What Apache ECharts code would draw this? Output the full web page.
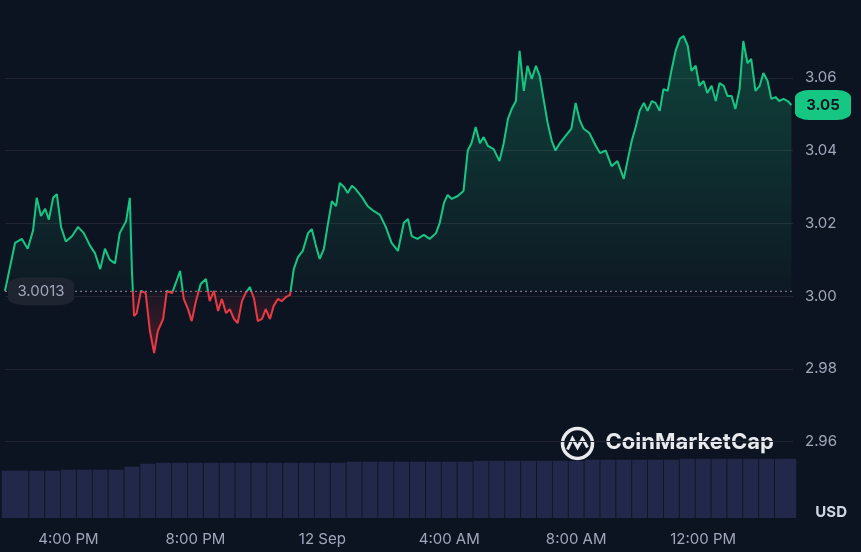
<!DOCTYPE html>
<html><head><meta charset="utf-8">
<script src="https://cdn.jsdelivr.net/npm/echarts@6/dist/echarts.min.js"></script>
<style>html,body{margin:0;background:#0d1421}#c{width:861px;height:552px}</style>
</head><body><div id="c"></div>
<script>
// minutes since 2:00 PM
const times=[0,19,32,43,53,60,68,76,83,91,98,106,115,127,138,149,161,170,180,189,198,208,217,229,236,240,244,249,257,266,274,282,289,299,306,316,323,331,338,346,353,361,370,380,387,395,403,410,418,425,433,440,448,455,463,471,478,486,493,501,508,516,523,531,539,546,554,563,573,580,588,595,603,610,618,626,633,641,648,656,663,675,686,697,709,720,731,743,754,762,769,780,792,803,815,822,830,837,845,856,867,875,882,890,898,905,913,924,935,943,951,958,966,973,981,988,996,1004,1011,1019,1026,1034,1041,1049,1060,1071,1079,1087,1094,1105,1117,1125,1136,1147,1158,1170,1177,1185,1193,1200,1208,1215,1223,1230,1238,1245,1253,1260,1268,1276,1283,1291,1298,1306,1313,1321,1328,1336,1344,1351,1359,1366,1374,1381,1389,1396,1404,1411,1419,1427,1434,1442,1449,1457,1464,1472,1480,1487];
const prices=[3.0014,3.0146,3.0157,3.013,3.018,3.027,3.022,3.024,3.021,3.027,3.028,3.019,3.015,3.0165,3.019,3.0173,3.0138,3.0118,3.0074,3.013,3.010,3.009,3.0173,3.0206,3.027,3.0069,2.9945,2.9953,3.0014,3.0008,2.9904,2.9843,2.9904,2.9937,3.0014,3.0008,3.0036,3.0069,2.9992,2.9964,2.9931,2.9986,3.0033,3.0047,2.9986,3.0014,2.9959,2.9992,2.9953,2.9964,2.9937,2.9926,2.9986,3.0008,3.0025,2.9992,2.9931,2.9937,2.9964,2.9937,2.9973,2.9992,2.9986,2.9997,3.0003,3.0074,3.0107,3.0124,3.0173,3.0184,3.0138,3.0102,3.013,3.0193,3.0261,3.0247,3.0311,3.030,3.0283,3.0303,3.0294,3.0272,3.0247,3.0234,3.0223,3.019,3.0146,3.0124,3.0201,3.0212,3.0165,3.0157,3.0168,3.0157,3.0173,3.0201,3.0256,3.0278,3.0267,3.0275,3.0289,3.040,3.042,3.0465,3.042,3.0437,3.0413,3.0404,3.0371,3.042,3.0487,3.0514,3.0536,3.0674,3.0564,3.0633,3.0597,3.0633,3.0605,3.0536,3.0476,3.0426,3.040,3.042,3.044,3.046,3.0531,3.0482,3.046,3.0448,3.0413,3.0393,3.040,3.0357,3.0371,3.0322,3.0371,3.0426,3.0467,3.0509,3.0531,3.0509,3.0536,3.0531,3.0509,3.0569,3.0564,3.0619,3.0674,3.0707,3.0715,3.0688,3.0619,3.0633,3.0578,3.0591,3.0558,3.0578,3.0536,3.0585,3.0578,3.055,3.055,3.0514,3.0569,3.0701,3.064,3.0652,3.0564,3.0578,3.0613,3.0591,3.0542,3.0547,3.0536,3.0542,3.0536,3.0525];
const volTimes=[8,30,60,90,120,150,180,210,240,270,300,330,360,390,420,450,480,510,540,570,600,630,660,690,720,750,780,810,840,870,900,930,960,990,1020,1050,1080,1110,1140,1170,1200,1230,1260,1290,1320,1350,1380,1410,1440,1470,1482];
const volumes=[48,48,48,48,49,49,49,49,52,55,56,56,56,56,56,56,56,56,56,56,56,56,57,57,57,57,57,57,57,57,58,58,58,58,58,58,58,59,59,59,59,59,59,60,60,60,60,60,60,60,60];
const xTickValues=[120,360,600,840,1080,1320];
const xTickLabels=['4:00 PM','8:00 PM','12 Sep','4:00 AM','8:00 AM','12:00 PM'];
const yTicks=[2.96,2.98,3.00,3.02,3.04,3.06];
const baseline=3.0013;
const xMax=1490, yMin=2.939, yMax=3.08;

const chart=echarts.init(document.getElementById('c'));
const last=prices[prices.length-1];
const bOff=(yMax-baseline)/(yMax-yMin);
const G=(stops)=>({type:'linear',x:0,y:5,x2:0,y2:518,global:true,colorStops:stops});
chart.setOption({
 backgroundColor:'#0d1421',animation:false,
 grid:{left:5,right:68,top:5,bottom:34},
 xAxis:{type:'value',min:0,max:xMax,
  axisLine:{show:false},axisTick:{show:false,customValues:xTickValues},splitLine:{show:false},
  axisLabel:{customValues:xTickValues,color:'#a1a7bb',fontSize:15,margin:14,fontFamily:'Inter',
   formatter:v=>xTickLabels[xTickValues.indexOf(v)]||''}},
 yAxis:[{type:'value',position:'right',min:yMin,max:yMax,
  axisLine:{show:false},axisTick:{show:false,customValues:yTicks},
  axisLabel:{customValues:yTicks,color:'#a1a7bb',fontSize:15,margin:12,fontFamily:'Inter',formatter:v=>v.toFixed(2)},
  splitLine:{show:true,lineStyle:{color:'#222531'}}},
  {type:'value',min:0,max:520,show:false}],
 series:[
  {type:'line',data:times.map((t,i)=>[t,prices[i]]),showSymbol:false,z:3,
   lineStyle:{width:2,color:G([{offset:0,color:'#16c784'},{offset:bOff,color:'#16c784'},{offset:bOff,color:'#ea3943'},{offset:1,color:'#ea3943'}])},
   areaStyle:{origin:baseline,color:G([
    {offset:0,color:'rgba(22,199,132,0.42)'},{offset:bOff,color:'rgba(22,199,132,0.04)'},
    {offset:bOff,color:'rgba(234,57,67,0.08)'},{offset:0.7,color:'rgba(234,57,67,0.45)'},{offset:1,color:'rgba(234,57,67,0.45)'}])}},
  {type:'line',data:[[0,baseline],[xMax,baseline]],showSymbol:false,silent:true,z:4,lineStyle:{color:'#8a8f9e',type:[2,3],width:1}},
  {type:'bar',yAxisIndex:1,data:volTimes.map((t,i)=>[t,volumes[i]]),barWidth:15,itemStyle:{color:'#22284a'},z:1},
  {type:'scatter',data:[[0,baseline]],symbol:'roundRect',symbolSize:[66,28],symbolOffset:[36,0],z:5,silent:true,
   itemStyle:{color:'#1f2431',opacity:1},label:{show:true,position:'inside',formatter:baseline.toFixed(4),color:'#a1a7bb',fontSize:15,fontFamily:'Inter'}},
  {type:'scatter',data:[[xMax,last]],symbol:'roundRect',symbolSize:[56,30],symbolOffset:[30,0],z:5,silent:true,
   itemStyle:{color:'#16c784',opacity:1},label:{show:true,position:'inside',formatter:last.toFixed(2),color:'#0d1421',fontWeight:'bold',fontSize:15,fontFamily:'Inter'}}
 ],
 graphic:[
  {type:'text',right:14,bottom:32,style:{text:'USD',fill:'#cfd6e4',fontSize:15,fontWeight:'bold',fontFamily:'Inter'}},
  {type:'group',left:560,top:426,children:[
   {type:'circle',shape:{cx:18,cy:18,r:15},style:{fill:'none',stroke:'#e8eaee',lineWidth:3.5}},
   {type:'polyline',shape:{points:[[8,24],[13,13],[18,22],[23,13],[28,22]]},style:{fill:'none',stroke:'#e8eaee',lineWidth:3}},
   {type:'text',x:46,y:6,style:{text:'CoinMarketCap',fill:'#e8eaee',fontSize:22,fontWeight:'bold',fontFamily:'Inter'}}]}
 ]
});
</script></body></html>
